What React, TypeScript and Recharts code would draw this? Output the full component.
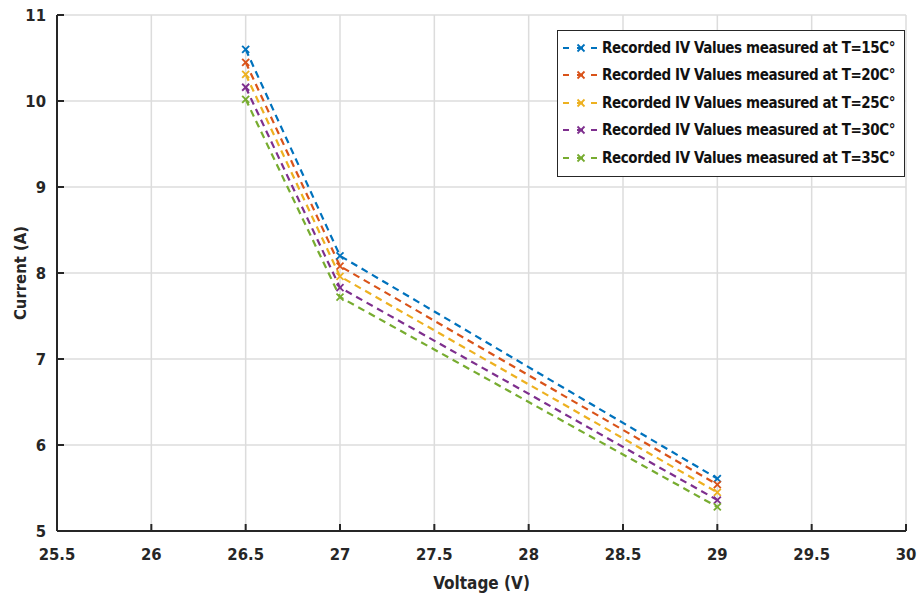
import { LineChart, Line, XAxis, YAxis, CartesianGrid } from 'recharts';

const voltages = [26.5, 27, 29];
const t15 = [10.6, 8.2, 5.61];
const t20 = [10.45, 8.08, 5.54];
const t25 = [10.31, 7.96, 5.45];
const t30 = [10.16, 7.83, 5.36];
const t35 = [10.02, 7.72, 5.28];

const xTicks = [25.5, 26, 26.5, 27, 27.5, 28, 28.5, 29, 29.5, 30];
const yTicks = [5, 6, 7, 8, 9, 10, 11];

const series = [
  { key: 't15', name: 'Recorded IV Values measured at T=15C°', values: t15, color: '#0072BD' },
  { key: 't20', name: 'Recorded IV Values measured at T=20C°', values: t20, color: '#D95319' },
  { key: 't25', name: 'Recorded IV Values measured at T=25C°', values: t25, color: '#EDB120' },
  { key: 't30', name: 'Recorded IV Values measured at T=30C°', values: t30, color: '#7E2F8E' },
  { key: 't35', name: 'Recorded IV Values measured at T=35C°', values: t35, color: '#77AC30' },
];

const data = voltages.map((v, i) => {
  const row: Record<string, number> = { v };
  series.forEach((s) => (row[s.key] = s.values[i]));
  return row;
});

const FONT = '"DejaVu Sans Condensed", "Liberation Sans Narrow", "Arial Narrow", sans-serif';
const tickStyle = { fill: '#262626', fontSize: 16.5, fontWeight: 700, fontFamily: FONT };

function XMark(props: any) {
  const { cx, cy, stroke } = props;
  if (cx == null || cy == null) return null;
  const r = 3.5;
  return (
    <g>
      <line x1={cx - r} y1={cy - r} x2={cx + r} y2={cy + r} stroke={stroke} strokeWidth={1.8} />
      <line x1={cx - r} y1={cy + r} x2={cx + r} y2={cy - r} stroke={stroke} strokeWidth={1.8} />
    </g>
  );
}

function LegendBox() {
  return (
    <div
      style={{
        position: 'absolute',
        left: 557,
        top: 30,
        width: 348,
        boxSizing: 'border-box',
        border: '1.5px solid #262626',
        background: '#fff',
        padding: '3px 4px 4px 3px',
        fontFamily: FONT,
        fontWeight: 700,
        fontSize: 15,
        letterSpacing: -0.4,
        color: '#111',
        whiteSpace: 'nowrap',
      }}
    >
      {series.map((s) => (
        <div key={s.key} style={{ display: 'flex', alignItems: 'center', height: 27.5 }}>
          <svg width={40} height={12} style={{ marginRight: 1, flex: 'none' }}>
            <line x1={2} y1={6} x2={38} y2={6} stroke={s.color} strokeWidth={2.2} strokeDasharray="6 8" />
            <XMark cx={20} cy={6} stroke={s.color} />
          </svg>
          <span>{s.name}</span>
        </div>
      ))}
    </div>
  );
}

export default function App() {
  return (
    <div style={{ position: 'absolute', left: 0, top: 0, width: 921, height: 603, background: '#fff' }}>
      <LineChart width={921} height={603} data={data} margin={{ top: 15, right: 15, bottom: 0, left: 0 }}>
        <CartesianGrid stroke="#dcdcdc" strokeWidth={1.5} />
        <XAxis
          dataKey="v"
          type="number"
          domain={[25.5, 30]}
          ticks={xTicks}
          height={72}
          stroke="#262626"
          strokeWidth={2}
          tickSize={-7}
          tickMargin={24}
          tick={tickStyle}
          label={{ value: 'Voltage (V)', position: 'insideBottom', offset: 14, style: { ...tickStyle, fontSize: 17 } }}
        />
        <XAxis
          xAxisId="top"
          dataKey="v"
          type="number"
          orientation="top"
          domain={[25.5, 30]}
          ticks={xTicks}
          height={0}
          stroke="#262626"
          strokeWidth={2}
          tickSize={-7}
          tick={false}
        />
        <YAxis
          type="number"
          domain={[5, 11]}
          ticks={yTicks}
          width={57}
          stroke="#262626"
          strokeWidth={2}
          tickSize={-7}
          tickMargin={18}
          tick={tickStyle}
          label={{ value: 'Current (A)', angle: -90, position: 'insideLeft', offset: 20, style: { ...tickStyle, textAnchor: 'middle' } }}
        />
        <YAxis
          yAxisId="right"
          type="number"
          orientation="right"
          domain={[5, 11]}
          ticks={yTicks}
          width={0}
          stroke="#262626"
          strokeWidth={2}
          tickSize={-7}
          tick={false}
        />
        {series.map((s) => (
          <Line
            key={s.key}
            dataKey={s.key}
            name={s.name}
            stroke={s.color}
            strokeWidth={2.2}
            strokeDasharray="7 5"
            dot={<XMark />}
            activeDot={false}
            isAnimationActive={false}
          />
        ))}
      </LineChart>
      <LegendBox />
    </div>
  );
}
